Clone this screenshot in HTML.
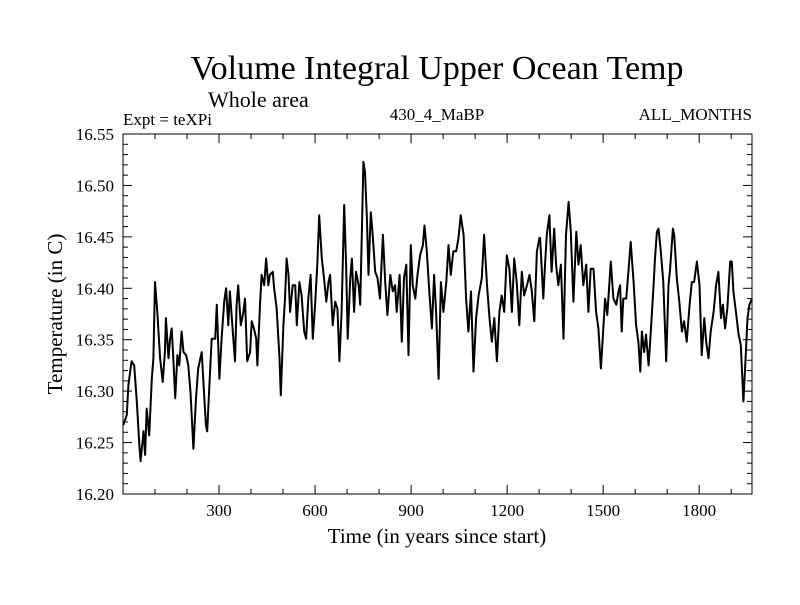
<!DOCTYPE html>
<html><head><meta charset="utf-8"><style>
body{margin:0;background:#fff}
svg text{font-family:"Liberation Serif",serif;fill:#000}
</style></head><body>
<svg id="chart" width="800" height="600" xmlns="http://www.w3.org/2000/svg">
<rect width="800" height="600" fill="#fff"/>
<text x="437" y="79" font-size="34" text-anchor="middle">Volume Integral Upper Ocean Temp</text>
<text x="208" y="107" font-size="22">Whole area</text>
<text x="123" y="125" font-size="17">Expt = teXPi</text>
<text x="437" y="120" font-size="17" text-anchor="middle">430_4_MaBP</text>
<text x="752" y="120" font-size="17" text-anchor="end">ALL_MONTHS</text>
<text x="437" y="543" font-size="21" text-anchor="middle">Time (in years since start)</text>
<text transform="translate(62,314) rotate(-90)" font-size="21" text-anchor="middle">Temperature (in C)</text>
<g id="axes"></g>
<path id="series" fill="none" stroke="#000" stroke-width="2" stroke-linejoin="round"/>
<rect x="123" y="134" width="629" height="360" fill="none" stroke="#000" stroke-width="1"/>
</svg>
<script>
const years=[1,12,17,27,35,43,51,55,64,69,74,82,90,95,100,107,116,124,131,134,142,147,152,157,163,170,176,183,189,197,204,211,220,228,235,246,253,259,263,270,277,288,293,301,308,316,322,329,334,343,350,355,360,368,376,381,388,397,402,409,416,420,428,433,441,447,454,459,468,472,480,489,493,501,506,511,517,522,530,538,543,551,558,566,572,579,586,593,600,607,613,621,628,635,642,647,655,663,670,676,683,691,697,702,710,715,722,728,736,741,746,751,756,762,767,774,780,788,795,803,812,819,826,835,843,850,855,864,871,878,885,892,899,905,913,920,928,937,942,949,957,965,972,978,986,993,1001,1010,1017,1024,1032,1041,1048,1055,1064,1072,1079,1087,1095,1103,1111,1121,1128,1137,1145,1152,1160,1168,1176,1183,1191,1199,1207,1215,1222,1230,1238,1246,1253,1262,1270,1277,1285,1293,1301,1303,1313,1319,1324,1332,1339,1347,1353,1360,1368,1376,1384,1392,1399,1407,1416,1423,1430,1438,1447,1454,1461,1470,1478,1485,1493,1501,1506,1513,1524,1532,1541,1548,1553,1558,1563,1572,1579,1586,1595,1603,1610,1616,1621,1628,1634,1642,1649,1657,1662,1668,1673,1680,1688,1697,1704,1709,1718,1722,1730,1738,1746,1753,1761,1770,1777,1784,1793,1801,1808,1816,1822,1829,1836,1845,1853,1860,1868,1874,1881,1888,1897,1902,1907,1916,1923,1930,1938,1945,1951,1957,1965];
const temps=[16.267,16.277,16.306,16.329,16.325,16.290,16.248,16.232,16.261,16.238,16.283,16.257,16.312,16.332,16.406,16.377,16.332,16.309,16.338,16.371,16.332,16.351,16.361,16.332,16.293,16.335,16.325,16.358,16.338,16.335,16.325,16.299,16.244,16.293,16.322,16.338,16.299,16.267,16.261,16.306,16.351,16.351,16.384,16.312,16.351,16.387,16.400,16.364,16.397,16.358,16.329,16.384,16.403,16.364,16.377,16.390,16.329,16.338,16.368,16.361,16.351,16.325,16.384,16.413,16.403,16.429,16.403,16.413,16.416,16.400,16.381,16.332,16.296,16.364,16.390,16.429,16.413,16.377,16.403,16.403,16.364,16.406,16.393,16.358,16.351,16.390,16.413,16.351,16.384,16.423,16.471,16.429,16.410,16.387,16.406,16.413,16.364,16.387,16.380,16.329,16.377,16.481,16.423,16.351,16.410,16.429,16.377,16.416,16.403,16.384,16.452,16.523,16.513,16.468,16.413,16.474,16.452,16.416,16.410,16.390,16.452,16.406,16.374,16.413,16.397,16.403,16.377,16.413,16.348,16.410,16.423,16.335,16.442,16.403,16.390,16.413,16.432,16.442,16.461,16.436,16.397,16.361,16.413,16.377,16.312,16.406,16.377,16.406,16.442,16.413,16.436,16.436,16.449,16.471,16.452,16.390,16.358,16.397,16.319,16.371,16.393,16.410,16.452,16.403,16.371,16.348,16.371,16.329,16.377,16.393,16.377,16.432,16.419,16.377,16.429,16.406,16.364,16.416,16.393,16.403,16.413,16.397,16.368,16.436,16.449,16.449,16.390,16.426,16.452,16.471,16.416,16.458,16.423,16.403,16.423,16.351,16.452,16.484,16.455,16.387,16.455,16.423,16.442,16.403,16.423,16.377,16.419,16.419,16.377,16.361,16.322,16.364,16.390,16.374,16.426,16.390,16.384,16.397,16.403,16.358,16.390,16.390,16.416,16.445,16.406,16.364,16.348,16.319,16.358,16.338,16.355,16.325,16.358,16.400,16.429,16.455,16.458,16.436,16.406,16.329,16.403,16.419,16.458,16.452,16.410,16.387,16.358,16.368,16.348,16.384,16.406,16.406,16.426,16.403,16.335,16.371,16.348,16.332,16.358,16.377,16.403,16.416,16.371,16.384,16.361,16.381,16.426,16.426,16.397,16.374,16.355,16.345,16.290,16.332,16.371,16.384,16.390];
const yTickLabels=["16.20","16.25","16.30","16.35","16.40","16.45","16.50","16.55"];
const xTickLabels=["300","600","900","1200","1500","1800"];
const X0=123,X1=752,Y0=494,Y1=134,XMIN=0,XMAX=1965,YMIN=16.20,YMAX=16.55;
const sx=v=>X0+(v-XMIN)/(XMAX-XMIN)*(X1-X0);
const sy=v=>Y0-(v-YMIN)/(YMAX-YMIN)*(Y0-Y1);
const NS="http://www.w3.org/2000/svg";
const g=document.getElementById('axes');
function ln(x1,y1,x2,y2,name){const l=document.createElementNS(NS,'line');
l.setAttribute('x1',x1);l.setAttribute('y1',y1);l.setAttribute('x2',x2);l.setAttribute('y2',y2);
l.setAttribute('stroke','#000');l.setAttribute('stroke-width','1');


g.appendChild(l);}
function tx(x,y,s,anchor,name){const t=document.createElementNS(NS,'text');
t.setAttribute('x',x);t.setAttribute('y',y);t.setAttribute('font-size','17');t.setAttribute('text-anchor',anchor);t.textContent=s;


g.appendChild(t);}
for(let i=0;i<=35;i++){const v=YMIN+i*0.01,y=sy(v),major=i%5===0,L=major?9:5;
ln(X0,y,X0+L,y,'y-tick');ln(X1,y,X1-L,y,'y-tick-right');}
yTickLabels.forEach(s=>tx(114,sy(parseFloat(s))+6,s,'end','y-tick-label'));
for(let v=100;v<XMAX;v+=100){const x=sx(v),major=v%300===0,L=major?9:5;
ln(x,Y0,x,Y0-L,'x-tick');ln(x,Y1,x,Y1+L,'x-tick-top');}
xTickLabels.forEach(s=>tx(sx(parseFloat(s)),516,s,'middle','x-tick-label'));
let d='';years.forEach((yr,i)=>{d+=(i?'L':'M')+sx(yr).toFixed(1)+','+sy(temps[i]).toFixed(1);});
document.getElementById('series').setAttribute('d',d);
</script>
</body></html>
